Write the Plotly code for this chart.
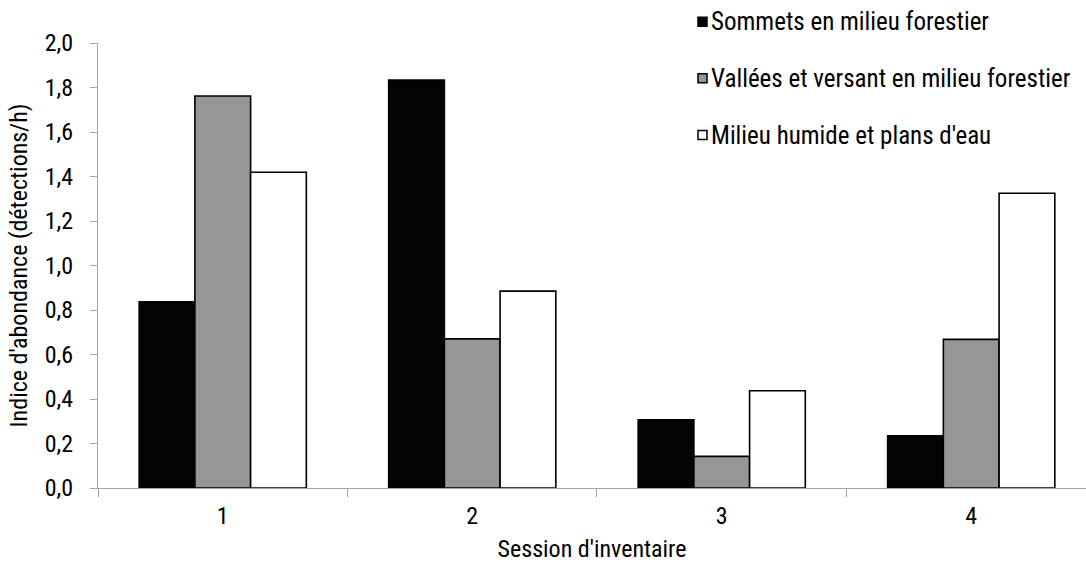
import plotly.graph_objects as go

sessions = ["1", "2", "3", "4"]
series_names = [
    "Sommets en milieu forestier",
    "Vallées et versant en milieu forestier",
    "Milieu humide et plans d'eau",
]
sommets = [0.837, 1.834, 0.306, 0.235]
vallees = [1.762, 0.670, 0.142, 0.668]
humide = [1.419, 0.885, 0.437, 1.325]
y_ticks = [0.0, 0.2, 0.4, 0.6, 0.8, 1.0, 1.2, 1.4, 1.6, 1.8, 2.0]

colors = ["#030504", "#969696", "#ffffff"]
values = [sommets, vallees, humide]

FONT = "Roboto Condensed, Liberation Sans, Arial, sans-serif"
FS = 24

W, H = 1086, 571
L, R, T, B = 98, 0, 43, 83

fig = go.Figure()
for name, vals, col in zip(series_names, values, colors):
    fig.add_trace(go.Bar(
        x=sessions, y=vals, name=name,
        marker=dict(color=col, line=dict(color="#000000", width=1.6)),
        showlegend=False,
    ))

# legend drawn as squares + labels, placed like the reference
pw = W - L - R
ph = H - T - B
def px_x(px):
    return (px - L) / pw
def px_y(py):
    return (H - B - py) / ph

leg_x = 698
leg_rows = [21.7, 78.3, 135.0]
sq = 9
for name, col, cy in zip(series_names, colors, leg_rows):
    fig.add_shape(type="rect", xref="paper", yref="paper",
                  x0=px_x(leg_x), x1=px_x(leg_x + sq),
                  y0=px_y(cy + sq / 2), y1=px_y(cy - sq / 2),
                  fillcolor=col, line=dict(color="#000000", width=1.5))
    fig.add_annotation(xref="paper", yref="paper", x=px_x(leg_x + sq + 2), y=px_y(cy),
                       text=name, showarrow=False, xanchor="left", yanchor="middle",
                       font=dict(family=FONT, size=25, color="#000000"))

fig.update_layout(
    width=W, height=H,
    margin=dict(l=L, r=R, t=T, b=B, pad=0),
    paper_bgcolor="#ffffff", plot_bgcolor="#ffffff",
    barmode="group", bargap=0.33, bargroupgap=0.0,
    separators=", ",
    font=dict(family=FONT, size=FS, color="#000000"),
    showlegend=False,
)
fig.update_xaxes(
    type="category", range=[-0.5, 3.46],
    showline=True, linecolor="#a6a6a6", linewidth=1.3,
    ticks="outside", tickson="boundaries", ticklen=8, tickcolor="#a6a6a6", tickwidth=1.3,
    ticklabelstandoff=6,
    showgrid=False, zeroline=False,
    title=dict(text="Session d'inventaire", standoff=11,
               font=dict(family=FONT, size=FS, color="#000000")),
)
fig.update_yaxes(
    range=[0, 2.0], tickvals=y_ticks, tickformat=".1f",
    showline=True, linecolor="#a6a6a6", linewidth=1.3,
    ticks="outside", ticklen=7, tickcolor="#a6a6a6", tickwidth=1.3,
    ticklabelstandoff=12,
    showgrid=False, zeroline=False,
    title=dict(text="Indice d'abondance (détections/h)", standoff=10,
               font=dict(family=FONT, size=FS, color="#000000")),
)

fig.write_html("out.html")
